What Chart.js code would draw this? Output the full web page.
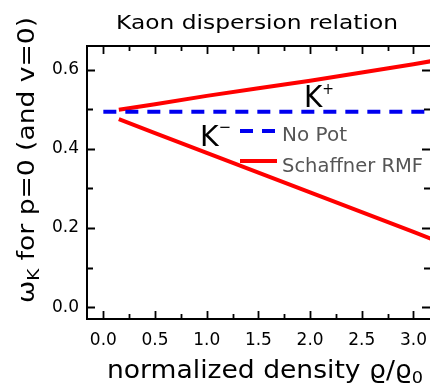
<!DOCTYPE html>
<html>
<head>
<meta charset="utf-8">
<script src="https://cdn.jsdelivr.net/npm/chart.js@4.4.1/dist/chart.umd.min.js"></script>
<style>
  html, body { margin: 0; padding: 0; background: #fff; overflow: hidden; }
  canvas { display: block; }
</style>
</head>
<body>
<canvas id="c" width="430" height="385"></canvas>
<script>
// ---- data ----
const densityRMF = [0.15, 0.5, 1.0, 1.5, 2.0, 2.5, 3.0, 3.2];
const kPlusRMF   = [0.499, 0.513, 0.534, 0.553, 0.572, 0.593, 0.614, 0.623];
const kMinusRMF  = [0.475, 0.440, 0.390, 0.340, 0.290, 0.240, 0.190, 0.170];
const densityNoPot = [0.0, 3.2];
const kaonNoPot    = [0.494, 0.494];
const xTickValues = [0.0, 0.5, 1.0, 1.5, 2.0, 2.5, 3.0];
const yTickValues = [0.0, 0.2, 0.4, 0.6];
const xMinorStep = 0.25;
const yMinorStep = 0.1;
const legendLabels = ["No Pot", "Schaffner RMF"];
const titleText = "Kaon dispersion relation";

const FAMILY = '"DejaVu Sans", sans-serif';
const BLUE = '#0000f0';
const RED = '#ff0000';

function pts(xs, ys) { return xs.map((x, i) => ({ x: x, y: ys[i] })); }

// draw a sequence of text pieces (with sub/superscripts) fitted to a target width
function drawRich(ctx, pieces, width, color) {
  let total = 0;
  pieces.forEach(p => { ctx.font = p.size + 'px ' + FAMILY; p.w = ctx.measureText(p.t).width; total += p.w; });
  const s = width ? width / total : 1;
  ctx.save();
  ctx.scale(s, 1);
  ctx.fillStyle = color;
  ctx.textBaseline = 'alphabetic';
  ctx.textAlign = 'left';
  let x = 0;
  pieces.forEach(p => {
    ctx.font = p.size + 'px ' + FAMILY;
    ctx.fillText(p.t, x, p.dy || 0);
    x += p.w;
  });
  ctx.restore();
}

const decor = {
  id: 'decor',
  afterDatasetsDraw(chart) {
    const ctx = chart.ctx;
    const a = chart.chartArea;
    const xs = chart.scales.x, ys = chart.scales.y;
    ctx.save();
    // frame
    ctx.strokeStyle = '#000';
    ctx.lineWidth = 2;
    ctx.beginPath();
    ctx.moveTo(a.right + 2, a.top); ctx.lineTo(a.left, a.top);
    ctx.lineTo(a.left, a.bottom); ctx.lineTo(a.right + 2, a.bottom);
    ctx.stroke();
    // inward ticks
    ctx.lineWidth = 1.8;
    ctx.beginPath();
    for (let i = 0; i <= 12; i++) {
      const v = i * xMinorStep;
      const px = Math.round(xs.getPixelForValue(v)) + 0.5;
      const len = (i % 2 === 0) ? 8 : 5;
      ctx.moveTo(px, a.bottom); ctx.lineTo(px, a.bottom - len);
      ctx.moveTo(px, a.top); ctx.lineTo(px, a.top + len);
    }
    for (let i = 0; i <= 6; i++) {
      const v = i * yMinorStep;
      const py = Math.round(ys.getPixelForValue(v)) + 0.5;
      const len = (i % 2 === 0) ? 8 : 6;
      ctx.moveTo(a.left, py); ctx.lineTo(a.left + len, py);
      ctx.moveTo(a.right, py); ctx.lineTo(a.right - len, py);
    }
    ctx.stroke();

    // legend
    const lx0 = 240, lx1 = 277;
    ctx.lineWidth = 4;
    ctx.strokeStyle = BLUE;
    ctx.setLineDash([13, 9]);
    ctx.beginPath(); ctx.moveTo(lx0, 131); ctx.lineTo(lx1, 131); ctx.stroke();
    ctx.setLineDash([]);
    ctx.strokeStyle = RED;
    ctx.beginPath(); ctx.moveTo(lx0, 161); ctx.lineTo(lx1, 161); ctx.stroke();
    ctx.save(); ctx.translate(282, 141);
    drawRich(ctx, [{ t: legendLabels[0], size: 19 }], 65, '#555');
    ctx.restore();
    ctx.save(); ctx.translate(282, 172);
    drawRich(ctx, [{ t: legendLabels[1], size: 19 }], 141, '#555');
    ctx.restore();

    // K+ / K- annotations
    ctx.save(); ctx.translate(304, 107);
    drawRich(ctx, [{ t: 'K', size: 30 }, { t: '+', size: 15, dy: -13 }], 30, '#000');
    ctx.restore();
    ctx.save(); ctx.translate(200, 146);
    drawRich(ctx, [{ t: 'K', size: 29 }, { t: '\u2212', size: 15, dy: -14 }], 31, '#000');
    ctx.restore();

    // title
    ctx.save(); ctx.translate(116, 29);
    drawRich(ctx, [{ t: titleText, size: 20 }], 282, '#000');
    ctx.restore();

    // x axis title
    ctx.save(); ctx.translate(107, 378);
    drawRich(ctx, [{ t: 'normalized density \u03F1/\u03F1', size: 24 }, { t: '0', size: 16, dy: 5 }], 316, '#000');
    ctx.restore();

    // y axis title
    ctx.save(); ctx.translate(34, 303); ctx.rotate(-Math.PI / 2);
    drawRich(ctx, [{ t: '\u03C9', size: 23 }, { t: 'K', size: 16, dy: 5 }, { t: ' for p=0 (and v=0)', size: 23 }], 286, '#000');
    ctx.restore();

    ctx.restore();
  }
};

new Chart(document.getElementById('c'), {
  type: 'line',
  data: {
    datasets: [
      { label: legendLabels[0], data: pts(densityNoPot, kaonNoPot), borderColor: BLUE, borderWidth: 4,
        borderDash: [13, 9], pointRadius: 0, fill: false, tension: 0 },
      { label: legendLabels[1], data: pts(densityRMF, kPlusRMF), borderColor: RED, borderWidth: 4,
        pointRadius: 0, fill: false, tension: 0 },
      { label: legendLabels[1] + ' K-', data: pts(densityRMF, kMinusRMF), borderColor: RED, borderWidth: 4,
        pointRadius: 0, fill: false, tension: 0 }
    ]
  },
  options: {
    responsive: false,
    animation: false,
    layout: { padding: { top: 46, right: 0, left: 0, bottom: 0 } },
    plugins: { legend: { display: false }, tooltip: { enabled: false }, title: { display: false } },
    scales: {
      x: {
        type: 'linear', min: -0.158, max: 3.16,
        grid: { display: false, drawTicks: false },
        border: { display: false },
        ticks: { color: '#000', font: { family: FAMILY, size: 17 }, padding: 11,
                 maxRotation: 0, callback: v => Number(v).toFixed(1) },
        afterBuildTicks: s => { s.ticks = xTickValues.map(v => ({ value: v })); },
        afterFit: s => { s.height = 66; s.paddingLeft = 0; s.paddingRight = 0; }
      },
      y: {
        type: 'linear', min: -0.03, max: 0.66,
        grid: { display: false, drawTicks: false },
        border: { display: false },
        ticks: { color: '#000', font: { family: FAMILY, size: 17 }, padding: 8,
                 callback: v => Number(v).toFixed(1) },
        afterBuildTicks: s => { s.ticks = yTickValues.map(v => ({ value: v })); },
        afterFit: s => { s.width = 87; s.paddingTop = 0; s.paddingBottom = 0; }
      }
    }
  },
  plugins: [decor]
});
</script>
</body>
</html>
